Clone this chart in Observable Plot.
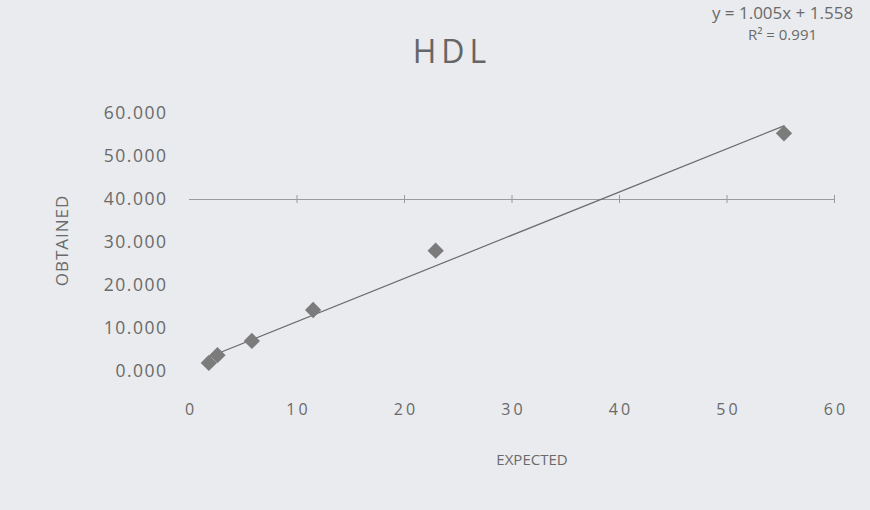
<!DOCTYPE html>
<html>
<head>
<meta charset="utf-8">
<script src="https://cdn.jsdelivr.net/npm/d3@7"></script>
<script src="https://cdn.jsdelivr.net/npm/@observablehq/plot@0.6"></script>
<style>
  html, body { margin: 0; padding: 0; background: #e9ebee; }
  #chart svg { display: block; }
  #chart g[aria-label="y-axis tick label"] text { letter-spacing: 1.5px; }
  #chart g[aria-label="x-axis tick label"] text { letter-spacing: 3px; }
  #chart .title text { letter-spacing: 5px; }
  #chart .ylab text { letter-spacing: 1px; }
</style>
</head>
<body>
<div id="chart"></div>
<script>
const expected = [1.8, 2.6, 5.8, 11.5, 22.9, 55.3];
const obtained = [2.0, 3.8, 7.1, 14.3, 28.1, 55.4];
const slope = 1.005;
const intercept = 1.558;
const r2 = 0.991;
const xTicks = [0, 10, 20, 30, 40, 50, 60];
const yTicks = [0, 10, 20, 30, 40, 50, 60];
const axisCrossY = 40;
const titleText = "HDL";
const xLabel = "EXPECTED";
const yLabel = "OBTAINED";

const points = expected.map((x, i) => ({x, y: obtained[i]}));
const xMin = d3.min(expected), xMax = d3.max(expected);
const trend = [xMin, xMax].map(x => ({x, y: slope * x + intercept}));
const grey = "#6a6a6a";
const font = "'Open Sans', 'Noto Sans', sans-serif";

const plot = Plot.plot({
  width: 870,
  height: 510,
  marginLeft: 189,
  marginRight: 36,
  marginTop: 113,
  marginBottom: 139,
  style: {background: "#e9ebee", fontFamily: font, color: grey, overflow: "visible"},
  x: {domain: [0, 60], ticks: xTicks},
  y: {domain: [0, 60], ticks: yTicks},
  marks: [
    Plot.axisY({ticks: yTicks, tickSize: 0, tickPadding: 22, tickFormat: d3.format(".3f"),
      fontSize: 17.5, label: null, fill: grey}),
    Plot.axisX({ticks: xTicks, tickSize: 0, tickPadding: 32, tickFormat: d => String(d),
      fontSize: 16, label: null, fill: grey, dx: 1.5}),
    Plot.ruleY([axisCrossY], {x1: 0, x2: 60, stroke: "#9a9a9a", strokeWidth: 1.2}),
    Plot.ruleX(xTicks.slice(1), {x: d => d, y1: axisCrossY, y2: axisCrossY, insetTop: -4, insetBottom: -4, stroke: "#9a9a9a"}),
    Plot.line(trend, {x: "x", y: "y", stroke: "#6a6a6a", strokeWidth: 1.2}),
    Plot.dot(points, {x: "x", y: "y", symbol: "square", rotate: 45, r: 6.5, fill: "#7b7b7b", stroke: "none"}),
    Plot.text([titleText], {className: "title", frameAnchor: "top", dx: -60, dy: -73, text: d => d, fontSize: 32, fill: "#666", lineAnchor: "top"}),
    Plot.text([`y = ${slope.toFixed(3)}x + ${intercept.toFixed(3)}`], {frameAnchor: "top-right", dx: -52, dy: -107, text: d => d, fontSize: 17, fill: grey, lineAnchor: "top", textAnchor: "middle"}),
    Plot.text([`R² = ${r2.toFixed(3)}`], {frameAnchor: "top-right", dx: -52, dy: -84, text: d => d, fontSize: 15, fill: grey, lineAnchor: "top", textAnchor: "middle"}),
    Plot.text([yLabel], {className: "ylab", frameAnchor: "left", dx: -127, dy: -2, rotate: -90, textAnchor: "middle", text: d => d, fontSize: 17, fill: grey}),
    Plot.text([xLabel], {frameAnchor: "bottom", dy: 93, dx: 20, text: d => d, fontSize: 15, fill: grey})
  ]
});
document.getElementById("chart").appendChild(plot);
</script>
</body>
</html>
